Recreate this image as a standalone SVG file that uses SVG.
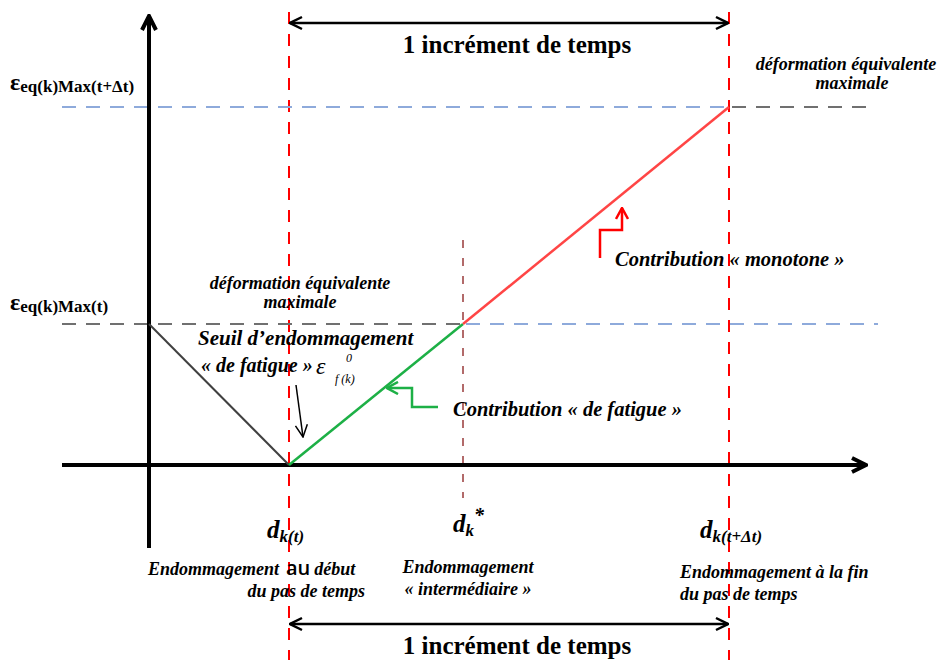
<svg xmlns="http://www.w3.org/2000/svg" width="944" height="660" viewBox="0 0 944 660">
<defs>
<marker id="big" viewBox="0 0 20 20" refX="18" refY="10" markerWidth="20" markerHeight="20" markerUnits="userSpaceOnUse" orient="auto-start-reverse">
<path d="M4,3 L18,10 L4,17" fill="none" stroke="#000" stroke-width="4"/>
</marker>
<marker id="dbl" viewBox="0 0 16 16" refX="15" refY="8" markerWidth="16" markerHeight="16" markerUnits="userSpaceOnUse" orient="auto-start-reverse">
<path d="M3,2 L15,8 L3,14" fill="none" stroke="#000" stroke-width="2.5"/>
</marker>
<marker id="grn" viewBox="0 0 14 14" refX="13" refY="7" markerWidth="14" markerHeight="14" markerUnits="userSpaceOnUse" orient="auto">
<path d="M2,1 L13,7 L2,13" fill="none" stroke="#1db046" stroke-width="2.5"/>
</marker>
<marker id="red" viewBox="0 0 14 14" refX="13" refY="7" markerWidth="14" markerHeight="14" markerUnits="userSpaceOnUse" orient="auto">
<path d="M2,1 L13,7 L2,13" fill="none" stroke="#ff0000" stroke-width="2.5"/>
</marker>
<marker id="thin" viewBox="0 0 14 14" refX="13" refY="7" markerWidth="14" markerHeight="14" markerUnits="userSpaceOnUse" orient="auto">
<path d="M1,1 L13,7 L1,13" fill="none" stroke="#000" stroke-width="1.5"/>
</marker>
</defs>
<style>
text{font-family:"Liberation Serif","DejaVu Serif",serif;fill:#000}
.bi{font-weight:bold;font-style:italic}
.b{font-weight:bold}
.cap{font-size:18px}
.lbl{font-size:20.5px}
.red{stroke:#ff0000;stroke-width:2;stroke-dasharray:12,10;fill:none}
.blue{stroke:#8eaadb;stroke-width:2;stroke-dasharray:14,10;fill:none}
.grey{stroke:#707070;stroke-width:2;stroke-dasharray:14,10;fill:none}
</style>
<rect width="944" height="660" fill="#fff"/>
<g id="guides">
<line class="red" x1="289" y1="12" x2="289" y2="660"/>
<line class="red" x1="729" y1="12" x2="729" y2="660"/>
<line x1="463" y1="240" x2="463" y2="498" stroke="#b26a6a" stroke-width="2" stroke-dasharray="8,10"/>
<line class="blue" x1="62" y1="107" x2="729" y2="107"/>
<line class="grey" x1="732" y1="107" x2="872" y2="107"/>
<line class="grey" x1="62" y1="324" x2="463" y2="324"/>
<line class="blue" x1="466" y1="324" x2="878" y2="324"/>
</g>
<g id="axes">
<line x1="149" y1="548" x2="149" y2="16" stroke="#000" stroke-width="4" marker-end="url(#big)"/>
<line x1="62" y1="465" x2="866" y2="465" stroke="#000" stroke-width="4" marker-end="url(#big)"/>
</g>
<g id="curves">
<line x1="149" y1="324" x2="289" y2="465" stroke="#404040" stroke-width="2"/>
<line x1="289" y1="465" x2="463" y2="324" stroke="#1db046" stroke-width="2.5"/>
<line x1="463" y1="324" x2="729" y2="107" stroke="#ff4545" stroke-width="2.5"/>
</g>
<g id="connectors">
<line x1="290" y1="23" x2="728" y2="23" stroke="#000" stroke-width="2.5" marker-start="url(#dbl)" marker-end="url(#dbl)"/>
<line x1="290" y1="624" x2="728" y2="624" stroke="#000" stroke-width="2.5" marker-start="url(#dbl)" marker-end="url(#dbl)"/>
<polyline points="438,407 412,407 412,388 387,388" fill="none" stroke="#1db046" stroke-width="2.5" marker-end="url(#grn)"/>
<polyline points="600,258 600,230 622,230 622,208" fill="none" stroke="#ff0000" stroke-width="2.5" marker-end="url(#red)"/>
<line x1="296" y1="385" x2="303" y2="437" stroke="#000" stroke-width="1.5" marker-end="url(#thin)"/>
</g>
<g id="labels">
<text class="b" x="517" y="53" style="font-size:25px" text-anchor="middle">1 incrément de temps</text>
<text class="b" x="517" y="654" style="font-size:25px" text-anchor="middle">1 incrément de temps</text>
<text class="b" x="10" y="90" style="font-size:24px">ε<tspan style="font-size:17px" dy="2">eq(k)Max(t+Δt)</tspan></text>
<text class="b" x="10" y="310" style="font-size:24px">ε<tspan style="font-size:17px" dy="2">eq(k)Max(t)</tspan></text>
<text class="bi cap" x="846" y="70" text-anchor="middle">déformation équivalente</text>
<text class="bi cap" x="852" y="89" text-anchor="middle">maximale</text>
<text class="bi cap" x="300" y="289" text-anchor="middle">déformation équivalente</text>
<text class="bi cap" x="300" y="308" text-anchor="middle">maximale</text>
<text class="bi" x="198" y="345" style="font-size:21px">Seuil d’endommagement</text>
<text class="bi" x="201" y="372" style="font-size:20px">« de fatigue »</text>
<text x="316" y="374" style="font-size:24px;font-style:italic">ε</text>
<text x="346" y="362" style="font-size:12px;font-style:italic">0</text>
<text x="335" y="383" style="font-size:12px;font-style:italic">f (k)</text>
<text class="bi lbl" x="453" y="416">Contribution « de fatigue »</text>
<text class="bi lbl" x="615" y="266">Contribution « monotone »</text>
<text class="bi" x="267" y="538" style="font-size:25px">d<tspan style="font-size:17px" dy="4">k(t)</tspan></text>
<text class="bi" x="453" y="532" style="font-size:25px">d<tspan style="font-size:17px" dy="4">k</tspan><tspan style="font-size:20px" dy="-14">*</tspan></text>
<text class="bi" x="700" y="538" style="font-size:25px">d<tspan style="font-size:17px" dy="4">k(t+Δt)</tspan></text>
<text class="bi cap" x="148" y="575">Endommagement<tspan dx="7" style="font-style:normal;font-size:20px;font-family:'Open Sans',sans-serif;font-weight:600">au</tspan><tspan dx="4">début</tspan></text>
<text class="bi cap" x="365" y="597" text-anchor="end">du pas de temps</text>
<text class="bi cap" x="468" y="573" text-anchor="middle">Endommagement</text>
<text class="bi cap" x="468" y="595" text-anchor="middle">« intermédiaire »</text>
<text class="bi cap" x="680" y="578">Endommagement à la fin</text>
<text class="bi cap" x="680" y="600">du pas de temps</text>
</g>
</svg>
